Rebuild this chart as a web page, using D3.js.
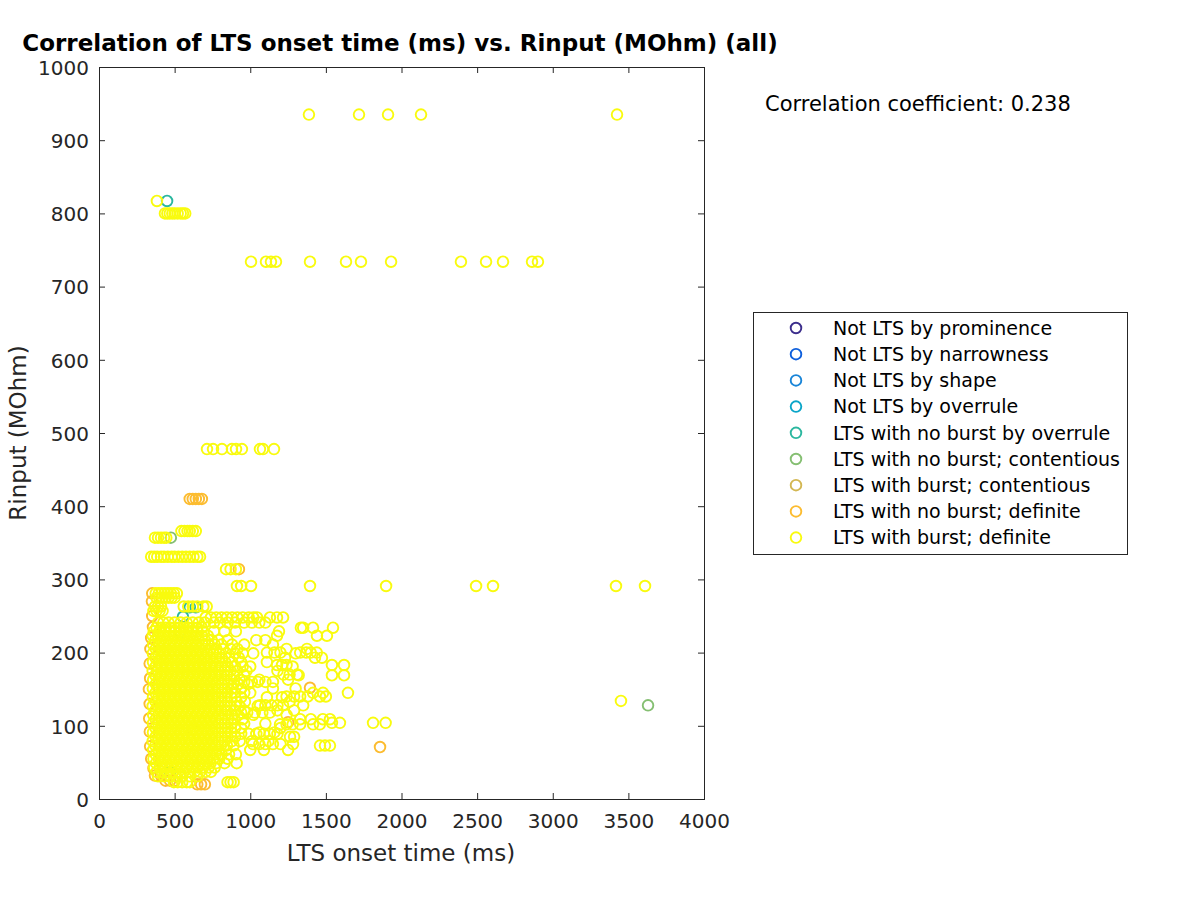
<!DOCTYPE html>
<html>
<head>
<meta charset="utf-8">
<script src="https://cdn.jsdelivr.net/npm/d3@7"></script>
<style>
  html, body { margin: 0; padding: 0; background: #fff; }
  svg { display: block; }
  text { font-family: "DejaVu Sans", sans-serif; }
</style>
</head>
<body>
<svg id="chart" width="1200" height="900"></svg>
<script>
// ---------------- DATA ----------------
const titleText = "Correlation of LTS onset time (ms) vs. Rinput (MOhm) (all)";
const xLabel = "LTS onset time (ms)";
const yLabel = "Rinput (MOhm)";
const corrText = "Correlation coefficient: 0.238";

const categories = [
  "Not LTS by prominence",
  "Not LTS by narrowness",
  "Not LTS by shape",
  "Not LTS by overrule",
  "LTS with no burst by overrule",
  "LTS with no burst; contentious",
  "LTS with burst; contentious",
  "LTS with no burst; definite",
  "LTS with burst; definite"
];
const categoryColors = ["#3c2e8c", "#0e5fdc", "#1985d8", "#0aa5c8", "#2bb79f", "#85bf72", "#d3b752", "#fcbc30", "#f9fb0e"];

const xTicks = [0, 500, 1000, 1500, 2000, 2500, 3000, 3500, 4000];
const yTicks = [0, 100, 200, 300, 400, 500, 600, 700, 800, 900, 1000];

// Each row: [Rinput (MOhm), [LTS onset times (ms)]]
const notLtsProminence = [];
const notLtsNarrowness = [];
const notLtsShape = [];
const notLtsOverrule = [];
const noBurstOverrule = [
  [817, [450]], [262, [600, 640]], [249, [555]], [228, [535]], [37, [470]]
];
const noBurstContentious = [
  [357, [475]], [128, [3630]]
];
const burstContentious = [
  [180, [560]], [95, [620]]
];
const noBurstDefinite = [
  [410, [600, 620, 640, 660, 680]], [314, [925]],
  [281, [352]], [270, [350]], [250, [352]], [235, [357]], [220, [345]], [205, [340]],
  [185, [335]], [165, [338]], [150, [330]], [130, [335]], [110, [332]], [92, [336]],
  [72, [338]], [55, [345]], [42, [360]], [32, [370, 410, 450]], [25, [440, 470, 500]],
  [20, [650, 675, 700]], [152, [1395]], [71, [1858]], [105, [1250]]
];
const burstDefinite = [
  [935, [1388, 1719, 1911, 2129, 3425]],
  [817, [383]],
  [800, [436, 452, 468, 485, 500, 520, 540, 555, 570]],
  [734, [1005, 1104, 1137, 1170, 1395, 1633, 1732, 1931, 2393, 2559, 2671, 2863, 2902]],
  [478, [714, 754, 813, 879, 906, 945, 1064, 1084, 1157]],
  [366, [545, 565, 585, 600, 620, 640]],
  [357, [370, 390, 410, 430, 445]],
  [331, [345, 365, 385, 410, 430, 455, 480, 500, 525, 550, 575, 600, 625, 650, 668]],
  [314, [840, 870, 905]],
  [291, [912, 940, 1005, 1395, 1898, 2493, 2605, 3418, 3610]],
  [281, [375, 395, 415, 435, 455, 475, 495, 515]],
  [275, [380, 400, 420, 440, 460, 480, 500]],
  [263, [370, 390, 410, 560, 590, 620, 650, 690, 712]],
  [257, [360, 380, 400, 420]],
  [248, [705, 740, 775, 810, 845, 880, 915, 950, 990, 1020, 1045, 1130, 1177, 1217]],
  [241, [390, 425, 460, 500, 540, 580, 620, 660, 700, 760, 800, 850, 900, 960, 1010, 1060, 1100]],
  [234, [380, 410, 440, 470, 500, 530, 560, 590, 620, 650, 680, 1335, 1350, 1415, 1547]],
  [229, [362, 398, 434, 470, 506, 542, 578, 614, 650, 690, 760, 830, 905, 1190]],
  [223, [355, 390, 426, 462, 498, 534, 570, 606, 642, 680, 720, 1177, 1441, 1507]],
  [217, [372, 408, 444, 480, 516, 552, 588, 624, 660, 700, 745, 790, 850, 1040, 1100]],
  [211, [358, 394, 430, 466, 502, 538, 574, 610, 646, 684, 722, 765, 810, 880, 960, 1150]],
  [205, [375, 411, 447, 483, 519, 555, 591, 627, 663, 699, 737, 775, 820, 870, 915, 1240, 1375]],
  [200, [1110, 1160, 1200, 1330, 1370, 1400, 1440]],
  [199, [356, 392, 428, 464, 500, 536, 572, 608, 644, 680, 716, 754, 795, 840, 900, 950, 1020, 1300]],
  [193, [373, 409, 445, 481, 517, 553, 589, 625, 661, 697, 735, 772, 812, 860, 925, 1230, 1428, 1474]],
  [187, [357, 393, 429, 465, 501, 537, 573, 609, 645, 681, 717, 755, 793, 835, 880, 940, 1110]],
  [183, [1177, 1210, 1240, 1540, 1620]],
  [181, [374, 410, 446, 482, 518, 554, 590, 626, 662, 698, 734, 770, 808, 850, 900, 950, 1000, 1280]],
  [175, [355, 391, 427, 463, 499, 535, 571, 607, 643, 679, 715, 751, 790, 830, 870, 915, 975, 1180]],
  [170, [1220, 1260, 1310]],
  [169, [372, 408, 444, 480, 516, 552, 588, 624, 660, 696, 732, 768, 806, 845, 890, 960, 1320, 1540, 1620]],
  [163, [358, 394, 430, 466, 502, 538, 574, 610, 646, 682, 718, 754, 792, 832, 875, 930, 1060, 1250]],
  [160, [960, 1010, 1050, 1100, 1150]],
  [157, [375, 411, 447, 483, 519, 555, 591, 627, 663, 699, 735, 771, 810, 850, 890, 920, 985]],
  [151, [356, 392, 428, 464, 500, 536, 572, 608, 644, 680, 716, 752, 790, 830, 880, 940, 1150, 1300]],
  [145, [373, 409, 445, 481, 517, 553, 589, 625, 661, 697, 733, 769, 808, 848, 900, 960, 1000, 1415, 1481, 1646]],
  [140, [1240, 1290, 1330, 1380, 1461, 1500]],
  [139, [357, 393, 429, 465, 501, 537, 573, 609, 645, 681, 717, 753, 791, 832, 875, 940, 1110, 1210]],
  [133, [374, 410, 446, 482, 518, 554, 590, 626, 662, 698, 734, 770, 808, 850, 910, 965, 1260]],
  [134, [3451]],
  [128, [1065, 1100, 1140, 1180, 1217, 1350]],
  [127, [355, 391, 427, 463, 499, 535, 571, 607, 643, 679, 715, 751, 790, 830, 870, 930, 1050]],
  [121, [372, 408, 444, 480, 516, 552, 588, 624, 660, 696, 732, 768, 806, 846, 900, 960, 1180, 1290]],
  [118, [940, 980, 1030, 1080, 1130]],
  [115, [358, 394, 430, 466, 502, 538, 574, 610, 646, 682, 718, 754, 792, 834, 880, 920, 1020, 1240]],
  [109, [375, 411, 447, 483, 519, 555, 591, 627, 663, 699, 735, 771, 810, 852, 895, 950, 1330, 1400, 1480, 1527]],
  [104, [1540, 1593, 1812, 1895]],
  [103, [356, 392, 428, 464, 500, 536, 572, 608, 644, 680, 716, 752, 790, 830, 875, 960, 1100]],
  [102, [1197, 1240, 1280, 1330, 1415, 1460]],
  [97, [373, 409, 445, 481, 517, 553, 589, 625, 661, 697, 733, 769, 808, 850, 900, 940, 1200]],
  [91, [357, 393, 429, 465, 501, 537, 573, 609, 645, 681, 717, 753, 791, 832, 875, 1060, 1160]],
  [89, [940, 990, 1040, 1090, 1130, 1180]],
  [85, [374, 410, 446, 482, 518, 554, 590, 626, 662, 698, 734, 770, 808, 850, 900, 1263, 1290]],
  [79, [355, 391, 427, 463, 499, 535, 571, 607, 643, 679, 715, 751, 790, 830, 880, 930, 1010, 1120]],
  [75, [1018, 1060, 1100, 1150, 1200, 1283]],
  [73, [372, 408, 444, 480, 516, 552, 588, 624, 660, 696, 732, 768, 806, 846, 890, 1461, 1494, 1527]],
  [67, [358, 394, 430, 466, 502, 538, 574, 610, 646, 682, 718, 754, 792, 840, 1000, 1090, 1250]],
  [61, [375, 411, 447, 483, 519, 555, 591, 627, 663, 699, 735, 771, 810, 860, 905]],
  [55, [360, 396, 432, 468, 504, 540, 576, 612, 648, 684, 720, 756, 795, 850]],
  [49, [377, 413, 449, 485, 521, 557, 593, 629, 665, 701, 737, 775, 830, 910]],
  [43, [365, 401, 437, 473, 509, 545, 581, 617, 653, 689, 725, 765]],
  [37, [380, 416, 452, 488, 524, 560, 596, 632, 668, 704, 740]],
  [31, [390, 430, 470, 510, 550, 600, 650]],
  [23, [495, 520, 550, 580, 600, 850, 870, 890]]
];

const seriesRows = [notLtsProminence, notLtsNarrowness, notLtsShape, notLtsOverrule,
  noBurstOverrule, noBurstContentious, burstContentious, noBurstDefinite, burstDefinite];

// ---------------- CHART ----------------
const svg = d3.select("#chart");
const plot = { left: 99, right: 704, top: 67, bottom: 799 };
const axisColor = "#262626";

const x = d3.scaleLinear().domain([0, 4000]).range([plot.left, plot.right]);
const y = d3.scaleLinear().domain([0, 1000]).range([plot.bottom, plot.top]);

svg.append("rect").attr("width", 1200).attr("height", 900).attr("fill", "#ffffff");

// points
const points = [];
seriesRows.forEach((rows, ci) => {
  rows.forEach(([rin, onsets]) => {
    onsets.forEach(t => points.push({ x: t, y: rin, c: ci }));
  });
});

svg.append("g").selectAll("circle")
  .data(points)
  .join("circle")
  .attr("cx", d => x(d.x))
  .attr("cy", d => y(d.y))
  .attr("r", 5.3)
  .attr("fill", "none")
  .attr("stroke", d => categoryColors[d.c])
  .attr("stroke-width", 1.9);

// axes
const tickLen = 6;
const fontTick = 20;
const gx = svg.append("g").attr("transform", `translate(0,${plot.bottom})`)
  .call(d3.axisBottom(x).tickValues(xTicks).tickSize(-tickLen).tickPadding(15).tickFormat(d3.format("d")));
const gxTop = svg.append("g").attr("transform", `translate(0,${plot.top})`)
  .call(d3.axisTop(x).tickValues(xTicks).tickSize(-tickLen).tickFormat(""));
const gy = svg.append("g").attr("transform", `translate(${plot.left},0)`)
  .call(d3.axisLeft(y).tickValues(yTicks).tickSize(-tickLen).tickPadding(10).tickFormat(d3.format("d")));
const gyRight = svg.append("g").attr("transform", `translate(${plot.right},0)`)
  .call(d3.axisRight(y).tickValues(yTicks).tickSize(-tickLen).tickFormat(""));

[gx, gxTop, gy, gyRight].forEach(g => {
  g.select(".domain").remove();
  g.selectAll(".tick line").attr("stroke", axisColor).attr("stroke-width", 1);
  g.selectAll(".tick text").attr("fill", axisColor).style("font-size", fontTick + "px")
    .style("font-family", "DejaVu Sans, sans-serif");
});
gx.selectAll(".tick text").attr("dy", "0.71em");
gy.selectAll(".tick text").attr("dy", "0.36em");

svg.append("rect")
  .attr("x", plot.left + 0.5).attr("y", plot.top + 0.5)
  .attr("width", plot.right - plot.left).attr("height", plot.bottom - plot.top)
  .attr("fill", "none").attr("stroke", axisColor).attr("stroke-width", 1);

// labels
svg.append("text").attr("x", 401).attr("y", 861).attr("text-anchor", "middle")
  .attr("fill", axisColor).style("font-size", "23px").text(xLabel);
svg.append("text").attr("transform", "translate(26,433) rotate(-90)").attr("text-anchor", "middle")
  .attr("fill", axisColor).style("font-size", "23px").text(yLabel);
svg.append("text").attr("x", 400).attr("y", 51).attr("text-anchor", "middle")
  .attr("fill", "#000").style("font-size", "23px").style("font-weight", "bold").text(titleText);
svg.append("text").attr("x", 765).attr("y", 111)
  .attr("fill", "#000").style("font-size", "21px").text(corrText);

// legend
const lg = svg.append("g");
lg.append("rect").attr("x", 753.5).attr("y", 312.5).attr("width", 374).attr("height", 242)
  .attr("fill", "#fff").attr("stroke", axisColor).attr("stroke-width", 1);
categories.forEach((name, i) => {
  const cy = 328 + i * 26.2;
  lg.append("circle").attr("cx", 796).attr("cy", cy).attr("r", 5.3)
    .attr("fill", "none").attr("stroke", categoryColors[i]).attr("stroke-width", 1.9);
  lg.append("text").attr("x", 833).attr("y", cy).attr("dy", "0.36em")
    .attr("fill", "#000").style("font-size", "19px").text(name);
});
</script>
</body>
</html>
